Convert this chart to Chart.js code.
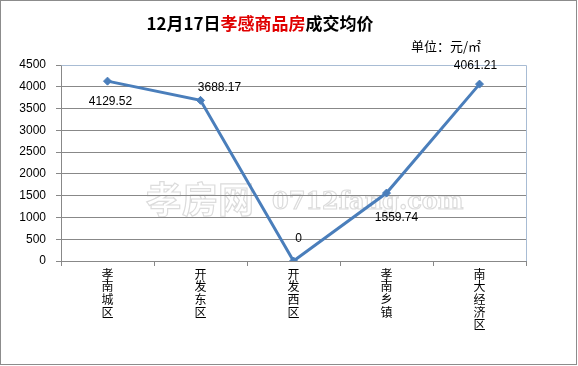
<!DOCTYPE html>
<html>
<head>
<meta charset="utf-8">
<script src="https://cdn.jsdelivr.net/npm/chart.js@4/dist/chart.umd.min.js"></script>
<style>
  html,body{margin:0;padding:0;background:#fff;}
  #wrap{width:578px;height:366px;position:relative;}
</style>
</head>
<body>
<div id="wrap"><canvas id="c" width="578" height="366"></canvas></div>
<script>
// data
const CATEGORIES = ["孝南城区","开发东区","开发西区","孝南乡镇","南大经济区"];
const PRICES = [4129.52, 3688.17, 0, 1559.74, 4061.21];
const Y_TICKS = [0,500,1000,1500,2000,2500,3000,3500,4000,4500];
const TITLE_PARTS = [["12月17日","#000"],["孝感商品房","#e00000"],["成交均价","#000"]];
const UNIT = "单位：元/㎡";

const FONT_CN = '"Noto Sans CJK SC", "DejaVu Sans", sans-serif';
const FONT_NUM = '"Liberation Sans", Arial, sans-serif';

// where each value label sits relative to its point (dx, dy)
const LABEL_POS = [[3, 21], [19, -13], [5, -22], [10, 25], [-4, -18]];

const decor = {
  id: 'decor',
  beforeDraw(chart){
    const ctx = chart.ctx;
    ctx.save();
    ctx.fillStyle = '#fff';
    ctx.fillRect(0,0,chart.width,chart.height);
    ctx.strokeStyle = '#8c8c8c';
    ctx.lineWidth = 1;
    ctx.strokeRect(0.5,0.5,576,364);
    // watermark
    ctx.font = 'bold 36px ' + FONT_CN;
    ctx.textBaseline = 'middle';
    ctx.textAlign = 'left';
    ctx.strokeStyle = '#dcdcdc';
    ctx.lineWidth = 1.2;
    ctx.strokeText('孝房网', 146, 199);
    ctx.font = 'bold 24px "DejaVu Serif", serif';
    ctx.strokeText('0712fang.com', 272, 203);
    ctx.restore();
  },
  beforeDatasetsDraw(chart){
    const a = chart.chartArea, ctx = chart.ctx;
    ctx.save();
    ctx.strokeStyle = '#a8bcd4';
    ctx.lineWidth = 1;
    ctx.beginPath();
    ctx.moveTo(Math.round(a.left)+0.5, Math.round(a.top)+0.5);
    ctx.lineTo(Math.round(a.right)+0.5, Math.round(a.top)+0.5);
    ctx.lineTo(Math.round(a.right)+0.5, Math.round(a.bottom));
    ctx.stroke();
    ctx.restore();
  },
  afterDraw(chart){
    const ctx = chart.ctx;
    ctx.save();
    // title with red middle part
    ctx.font = 'bold 17px ' + FONT_CN;
    ctx.textBaseline = 'middle';
    let total = 0;
    TITLE_PARTS.forEach(p => total += ctx.measureText(p[0]).width);
    let x = 260 - total/2;
    TITLE_PARTS.forEach(p => {
      ctx.fillStyle = p[1];
      ctx.textAlign = 'left';
      ctx.fillText(p[0], x, 24);
      x += ctx.measureText(p[0]).width;
    });
    ctx.font = '13px ' + FONT_CN;
    ctx.fillStyle = '#000';
    ctx.textAlign = 'right';
    ctx.fillText(UNIT, 481, 46);
    // value labels
    const meta = chart.getDatasetMeta(0);
    ctx.font = '12px ' + FONT_NUM;
    ctx.textAlign = 'center';
    meta.data.forEach((pt, i) => {
      const o = LABEL_POS[i];
      ctx.fillText(String(PRICES[i]), pt.x + o[0], pt.y + o[1]);
    });
    ctx.restore();
  }
};

new Chart(document.getElementById('c'), {
  type: 'line',
  data: {
    labels: CATEGORIES.map(s => s.split('')),
    datasets: [{
      data: PRICES,
      borderColor: '#4a7ebb',
      backgroundColor: '#4a7ebb',
      borderWidth: 3,
      pointStyle: 'rectRot',
      pointRadius: 4,
      pointBorderWidth: 1,
      tension: 0
    }]
  },
  options: {
    responsive: false,
    animation: false,
    events: [],
    layout: { padding: { left: 0, right: 52, top: 65, bottom: 0 } },
    plugins: { legend: { display: false }, title: { display: false }, tooltip: { enabled: false } },
    scales: {
      x: {
        offset: true,
        grid: { offset: true, drawOnChartArea: false, drawTicks: true, tickLength: 5, color: '#888' },
        border: { color: '#888' },
        ticks: { color: '#000', font: { family: FONT_CN, size: 12, lineHeight: 1.05 }, maxRotation: 0, minRotation: 0, padding: 2 },
        afterFit(s){ s.height = 105; }
      },
      y: {
        min: 0, max: 4500,
        afterBuildTicks(s){ s.ticks = Y_TICKS.map(v => ({value: v})); },
        grid: { color: '#888', tickLength: 5 },
        border: { color: '#888' },
        ticks: { color: '#000', font: { family: FONT_NUM, size: 12 }, padding: 10, callback: v => String(v) },
        afterFit(s){ s.width = 61; }
      }
    }
  },
  plugins: [decor]
});
</script>
</body>
</html>
